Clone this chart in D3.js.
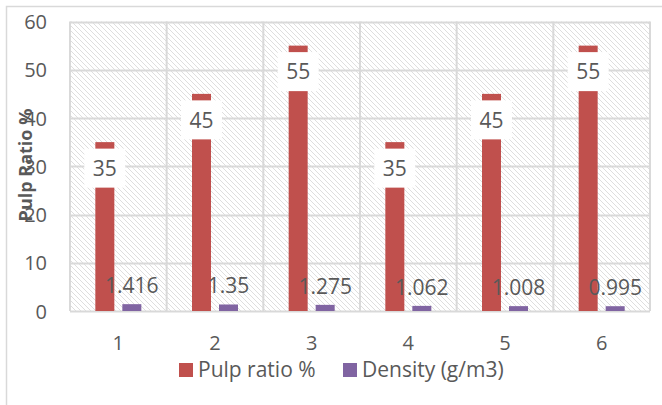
<!DOCTYPE html>
<html><head><meta charset="utf-8">
<script src="https://cdn.jsdelivr.net/npm/d3@7"></script>
<style>body{margin:0;background:#fff}svg{display:block}text{font-family:"Open Sans",sans-serif;fill:#595959}</style>
</head><body>
<svg id="c" width="662" height="405"></svg>
<script>
const categories = ["1","2","3","4","5","6"];
const pulpRatio = [35,45,55,35,45,55];
const density = [1.416,1.35,1.275,1.062,1.008,0.995];
const densityLabels = ["1.416","1.35","1.275","1.062","1.008","0.995"];
const yTicks = [0,10,20,30,40,50,60];
const seriesNames = ["Pulp ratio %","Density (g/m3)"];
const colors = ["#C0504D","#8064A2"];

const svg = d3.select("#c");
const m = {l:70, r:650, t:21.5, b:311};
const defs = svg.append("defs");
const pat = defs.append("pattern").attr("id","hatch").attr("patternUnits","userSpaceOnUse")
  .attr("width",5).attr("height",5);
pat.append("rect").attr("width",5).attr("height",5).attr("fill","#fff");
pat.append("path").attr("d","M-1,-1 L6,6 M-1,4 L1,6 M4,-1 L6,1").attr("stroke","#dedede").attr("stroke-width",1);

// outer border
svg.append("rect").attr("x",6.5).attr("y",6.5).attr("width",700).attr("height",500)
  .attr("fill","none").attr("stroke","#d9d9d9").attr("stroke-width",1.5);

const x = d3.scaleBand().domain(categories).range([m.l,m.r]);
const y = d3.scaleLinear().domain([0,60]).range([m.b,m.t]);
const bw = 19, gap = 8;

svg.append("rect").attr("x",m.l).attr("y",m.t).attr("width",m.r-m.l).attr("height",m.b-m.t).attr("fill","url(#hatch)");

// horizontal gridlines
svg.append("g").selectAll("line").data(yTicks).join("line")
  .attr("x1",m.l).attr("x2",m.r).attr("y1",d=>Math.round(y(d))+0.5).attr("y2",d=>Math.round(y(d))+0.5)
  .attr("stroke","#d9d9d9").attr("stroke-width",2);
// vertical gridlines
svg.append("g").selectAll("line").data(d3.range(categories.length+1)).join("line")
  .attr("x1",i=>m.l+i*x.step()).attr("x2",i=>m.l+i*x.step()).attr("y1",m.t).attr("y2",m.b)
  .attr("stroke","#d9d9d9").attr("stroke-width",2);

// y axis labels
const yAxis = d3.axisLeft(y).tickValues(yTicks).tickSize(0).tickPadding(0);
const ga = svg.append("g").attr("transform",`translate(47,0)`).call(yAxis);
ga.select(".domain").remove();
ga.selectAll("text").attr("font-size",20).style("font-family","Open Sans").attr("fill","#595959").attr("dy","0.35em");

// x axis labels
const xAxis = d3.axisBottom(x).tickSize(0).tickPadding(0);
const gx = svg.append("g").attr("transform",`translate(0,${m.b})`).call(xAxis);
gx.select(".domain").remove();
gx.selectAll("text").attr("font-size",20).style("font-family","Open Sans").attr("fill","#595959").attr("y",32).attr("dy","0.35em");

const cx = c => x(c)+x.bandwidth()/2;
// pulp bars
svg.append("g").selectAll("rect").data(pulpRatio).join("rect")
  .attr("x",(d,i)=>cx(categories[i])-gap/2-bw).attr("width",bw)
  .attr("y",d=>y(d)).attr("height",d=>y(0)-y(d)).attr("fill",colors[0]);
// density bars
svg.append("g").selectAll("rect").data(density).join("rect")
  .attr("x",(d,i)=>cx(categories[i])+gap/2).attr("width",bw)
  .attr("y",d=>y(d)).attr("height",d=>y(0)-y(d)).attr("fill",colors[1]);

// pulp labels with white boxes
const pl = svg.append("g").selectAll("g").data(pulpRatio).join("g")
  .attr("transform",(d,i)=>`translate(${cx(categories[i])-gap/2-bw/2},${y(d)+26.5})`);
pl.append("rect").attr("x",-20.5).attr("y",-20).attr("width",41).attr("height",39).attr("fill","#fff");
pl.append("text").attr("text-anchor","middle").attr("dy","0.35em").attr("font-size",21).text(d=>d);

// density labels
svg.append("g").selectAll("text").data(density).join("text")
  .attr("x",(d,i)=>cx(categories[i])+gap/2+bw/2).attr("y",d=>y(d)-11)
  .attr("text-anchor","middle").attr("font-size",21).text((d,i)=>densityLabels[i]);

// y title
svg.append("text").attr("transform","translate(32,165) rotate(-90)").attr("text-anchor","middle")
  .attr("font-size",18).attr("font-weight","bold").text("Pulp Ratio %");

// legend
const lg = svg.append("g");
const items = [{n:seriesNames[0],c:colors[0],x:179},{n:seriesNames[1],c:colors[1],x:343}];
items.forEach(it=>{
  lg.append("rect").attr("x",it.x).attr("y",363).attr("width",14).attr("height",14).attr("fill",it.c);
  lg.append("text").attr("x",it.x+19).attr("y",370).attr("dy","0.35em").attr("font-size",21).text(it.n);
});
</script>
</body></html>
